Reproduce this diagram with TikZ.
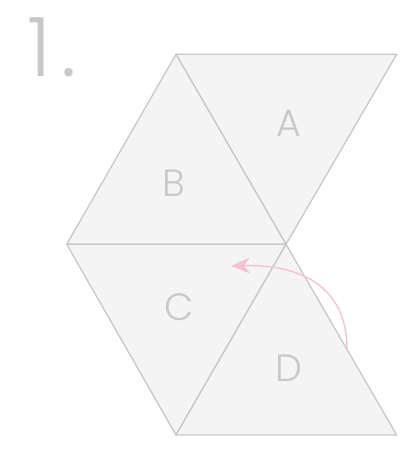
\documentclass[tikz,border=0pt]{standalone}
\usepackage{fontspec}
\setmainfont{Poppins Light}
\usetikzlibrary{arrows.meta}
\definecolor{edge}{HTML}{C8C8C8}
\definecolor{face}{HTML}{F4F4F4}
\definecolor{txt}{HTML}{C8C8C8}
\definecolor{pinkarrow}{HTML}{F3C3D1}
\tikzset{
  tri/.style={draw=edge, fill=face, line width=1.3pt, line join=round},
  lbl/.style={text=txt, font=\fontsize{38}{38}\selectfont, inner sep=0pt, anchor=center},
  foldarrow/.style={draw=pinkarrow, line width=1.4pt, -{Stealth[length=19pt,width=16pt,inset=6pt]}}
}
\begin{document}
\begin{tikzpicture}[x=1pt,y=-1pt]
\useasboundingbox (0,0) rectangle (413,450);
\coordinate (tl) at (176,54.3);
\coordinate (tr) at (396.7,54.3);
\coordinate (m) at (286,244.3);
\coordinate (l) at (66.7,244.3);
\coordinate (bl) at (176,435);
\coordinate (br) at (396.7,435);
\draw[tri] (tl) -- (tr) -- (m) -- cycle;
\draw[tri] (tl) -- (l) -- (m) -- cycle;
\draw[tri] (l) -- (m) -- (bl) -- cycle;
\draw[tri] (m) -- (bl) -- (br) -- cycle;
\node[lbl] (A) at (289,123) {A};
\node[lbl] (B) at (174,183) {B};
\node[lbl] (C) at (179,307) {C};
\node[lbl] (D) at (289,368) {D};
\node[text=txt, font=\fontsize{82}{82}\selectfont, inner sep=0pt, anchor=base west] (num) at (27,76) {1\kern10pt.};
\coordinate (as) at (347,351);
\coordinate (ae) at (231,266);
\draw[foldarrow] (as) .. controls (348,290) and (305,264) .. (ae);
\end{tikzpicture}
\end{document}
